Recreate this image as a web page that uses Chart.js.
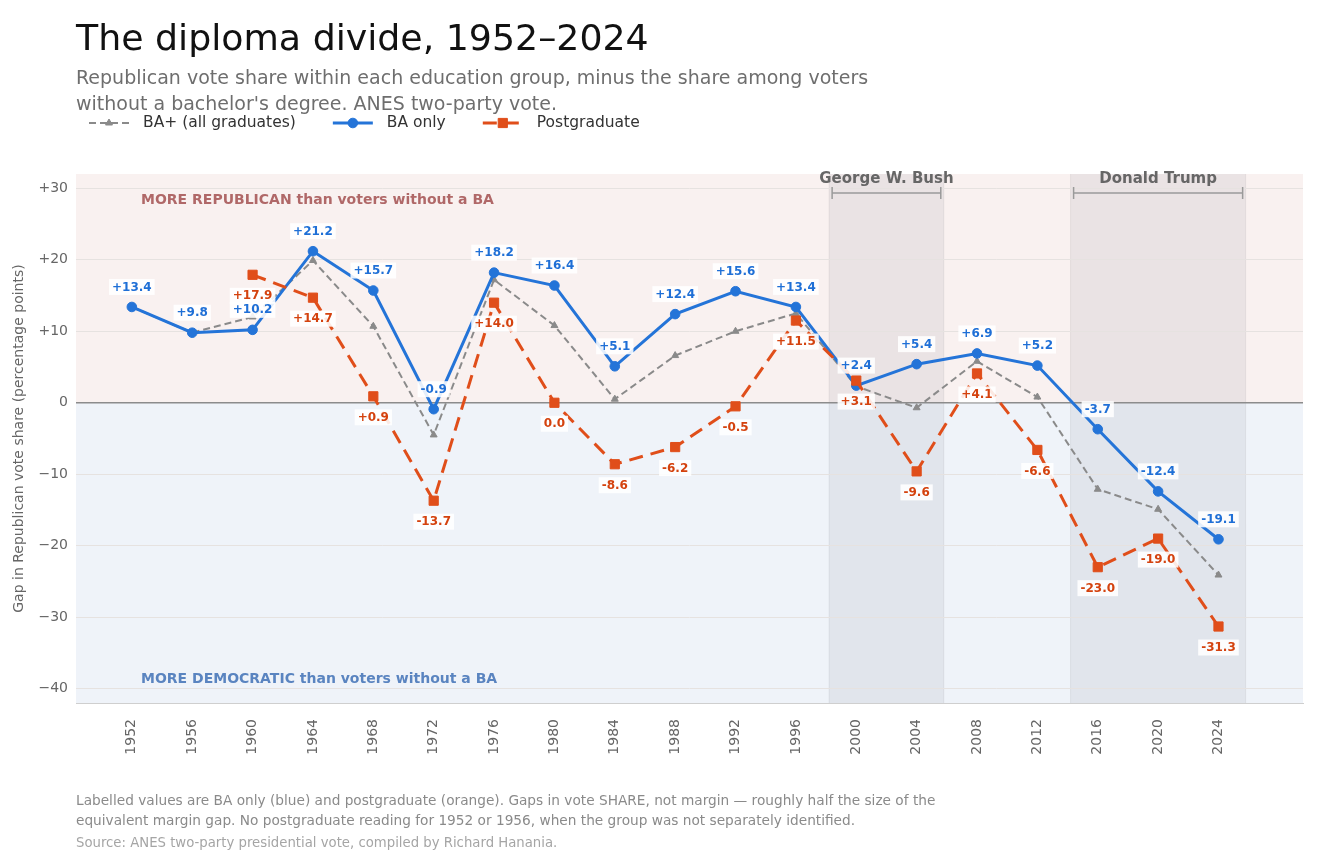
<!DOCTYPE html>
<html>
<head>
<meta charset="utf-8">
<title>The diploma divide</title>
<script src="https://cdn.jsdelivr.net/npm/chart.js@4.4.1/dist/chart.umd.min.js"></script>
<style>
  body { margin: 0; background: #fff; font-family: "DejaVu Sans", sans-serif; }
  #wrap { position: relative; width: 1326px; height: 859px; }
  #chart { position: absolute; left: 0; top: 0; }
  .txt { position: absolute; left: 76px; white-space: nowrap; }
  #title { top: 17px; font-size: 36.3px; line-height: 42px; color: #111; }
  #subtitle { top: 64px; font-size: 19px; line-height: 26px; color: #6e6e6e; }
  #notes { top: 790px; font-size: 13.7px; line-height: 20px; color: #8a8a8a; }
  #source { top: 833px; font-size: 13.25px; line-height: 20px; color: #a5a5a5; }
</style>
</head>
<body>
<div id="wrap">
  <canvas id="chart" width="1326" height="859"></canvas>
  <div class="txt" id="title">The diploma divide, 1952–2024</div>
  <div class="txt" id="subtitle">Republican vote share within each education group, minus the share among voters<br>without a bachelor's degree. ANES two-party vote.</div>
  <div class="txt" id="notes">Labelled values are BA only (blue) and postgraduate (orange). Gaps in vote SHARE, not margin — roughly half the size of the<br>equivalent margin gap. No postgraduate reading for 1952 or 1956, when the group was not separately identified.</div>
  <div class="txt" id="source">Source: ANES two-party presidential vote, compiled by Richard Hanania.</div>
</div>
<script>
// election years
const years = [1952, 1956, 1960, 1964, 1968, 1972, 1976, 1980, 1984, 1988, 1992, 1996, 2000, 2004, 2008, 2012, 2016, 2020, 2024];

// gap in Republican share vs. voters without a BA (pp)
const baOnly   = [13.4, 9.8, 10.2, 21.2, 15.7, -0.9, 18.2, 16.4, 5.1, 12.4, 15.6, 13.4, 2.4, 5.4, 6.9, 5.2, -3.7, -12.4, -19.1];
const postgrad = [null, null, 17.9, 14.7, 0.9, -13.7, 14.0, 0.0, -8.6, -6.2, -0.5, 11.5, 3.1, -9.6, 4.1, -6.6, -23.0, -19.0, -31.3];
const baPlus   = [13.4, 9.8, 12.0, 19.9, 10.7, -4.5, 17.2, 10.8, 0.5, 6.6, 10.0, 12.5, 2.3, -0.7, 5.8, 0.8, -12.1, -14.9, -24.1];

// shaded presidencies
const eraNames = ['George W. Bush', 'Donald Trump'];
const eraStart = [2000, 2016];
const eraEnd   = [2004, 2024];

const yTicks = [-40, -30, -20, -10, 0, 10, 20, 30];

const FONT = '"DejaVu Sans", sans-serif';

function pts(vals) {
    return years.map((yr, i) => ({ x: yr, y: vals[i] }));
}

function fmtLabel(v) {
    if (v > 0) return '+' + v.toFixed(1);
    if (v < 0) return '-' + Math.abs(v).toFixed(1);
    return '0.0';
}

const backdrop = {
    id: 'backdrop',
    beforeDraw(chart) {
        const { ctx, chartArea: a, scales: { x, y } } = chart;
        const y0 = y.getPixelForValue(0);
        ctx.save();
        ctx.fillStyle = '#f9f1f0';
        ctx.fillRect(a.left, a.top, a.width, y0 - a.top);
        ctx.fillStyle = '#eff3f9';
        ctx.fillRect(a.left, y0, a.width, a.bottom - y0);
        eraStart.forEach((s, k) => {
            const x1 = x.getPixelForValue(s - 1.8);
            const x2 = x.getPixelForValue(eraEnd[k] + 1.8);
            ctx.fillStyle = 'rgba(110,110,125,0.1)';
            ctx.fillRect(x1, a.top, x2 - x1, a.height);
            ctx.strokeStyle = 'rgba(0,0,0,0.06)';
            ctx.lineWidth = 1;
            ctx.beginPath();
            ctx.moveTo(x1, a.top); ctx.lineTo(x1, a.bottom);
            ctx.moveTo(x2, a.top); ctx.lineTo(x2, a.bottom);
            ctx.stroke();
        });
        ctx.restore();
    },
    beforeDatasetsDraw(chart) {
        const { ctx, chartArea: a } = chart;
        ctx.save();
        ctx.font = 'bold 14px ' + FONT;
        ctx.textBaseline = 'middle';
        ctx.textAlign = 'left';
        ctx.fillStyle = '#b06868';
        ctx.fillText('MORE REPUBLICAN than voters without a BA', a.left + 65, a.top + 26);
        ctx.fillStyle = '#5a84c0';
        ctx.fillText('MORE DEMOCRATIC than voters without a BA', a.left + 65, a.bottom - 24);
        ctx.restore();
    }
};

const valueLabels = {
    id: 'valueLabels',
    afterDatasetsDraw(chart) {
        const ctx = chart.ctx;
        ctx.save();
        ctx.font = 'bold 12px ' + FONT;
        ctx.textAlign = 'center';
        ctx.textBaseline = 'middle';
        chart.data.datasets.forEach((ds, i) => {
            if (!ds.labelOffset) return;
            const meta = chart.getDatasetMeta(i);
            meta.data.forEach((p, j) => {
                const v = ds.data[j].y;
                if (v === null) return;
                const t = fmtLabel(v);
                const w = ctx.measureText(t).width;
                const cx = p.x, cy = p.y + ds.labelOffset;
                ctx.fillStyle = 'rgba(255,255,255,0.88)';
                ctx.fillRect(cx - w / 2 - 3, cy - 8, w + 6, 16);
                ctx.fillStyle = ds.labelColor;
                ctx.fillText(t, cx, cy + 0.5);
            });
        });
        ctx.restore();
    }
};

const extras = {
    id: 'extras',
    afterDraw(chart) {
        const { ctx, chartArea: a, scales: { x } } = chart;
        ctx.save();
        // presidency brackets
        eraStart.forEach((s, k) => {
            const x1 = x.getPixelForValue(s - 1.6);
            const x2 = x.getPixelForValue(eraEnd[k] + 1.6);
            const by = a.top + 19;
            ctx.strokeStyle = '#9a9a9a';
            ctx.lineWidth = 1.5;
            ctx.beginPath();
            ctx.moveTo(x1, by); ctx.lineTo(x2, by);
            ctx.moveTo(x1, by - 6); ctx.lineTo(x1, by + 6);
            ctx.moveTo(x2, by - 6); ctx.lineTo(x2, by + 6);
            ctx.stroke();
            ctx.font = 'bold 15px ' + FONT;
            ctx.fillStyle = '#666';
            ctx.textAlign = 'center';
            ctx.textBaseline = 'middle';
            ctx.fillText(eraNames[k], (x1 + x2) / 2, a.top + 5);
        });
        // legend row
        let lx = 89;
        const ly = 123;
        ctx.font = '15.5px ' + FONT;
        ctx.textAlign = 'left';
        ctx.textBaseline = 'middle';
        chart.data.datasets.forEach(ds => {
            ctx.strokeStyle = ds.borderColor;
            ctx.lineWidth = ds.borderWidth;
            ctx.setLineDash(ds.borderDash || []);
            ctx.beginPath();
            ctx.moveTo(lx, ly); ctx.lineTo(lx + 40, ly);
            ctx.stroke();
            ctx.setLineDash([]);
            ctx.fillStyle = ds.borderColor;
            ctx.lineWidth = 1;
            Chart.helpers.drawPoint(ctx, { pointStyle: ds.pointStyle, radius: ds.pointRadius, borderWidth: 1, rotation: 0 }, lx + 20, ly);
            ctx.fillStyle = '#333';
            ctx.fillText(ds.label, lx + 54, ly);
            lx += 54 + ctx.measureText(ds.label).width + 37;
        });
        ctx.restore();
    }
};

new Chart(document.getElementById('chart'), {
    type: 'line',
    data: {
        datasets: [
            {
                label: 'BA+ (all graduates)',
                data: pts(baPlus),
                borderColor: '#8a8a8a',
                backgroundColor: '#8a8a8a',
                borderWidth: 2,
                borderDash: [7, 4],
                pointStyle: 'triangle',
                pointRadius: 4,
                pointBorderWidth: 1,
                order: 2
            },
            {
                label: 'BA only',
                data: pts(baOnly),
                borderColor: '#2474d8',
                backgroundColor: '#2474d8',
                borderWidth: 3,
                pointStyle: 'circle',
                pointRadius: 4.8,
                pointBorderWidth: 1,
                labelOffset: -20,
                labelColor: '#1f6fd6',
                order: 1
            },
            {
                label: 'Postgraduate',
                data: pts(postgrad),
                borderColor: '#e04e1a',
                backgroundColor: '#e04e1a',
                borderWidth: 3,
                borderDash: [14, 8],
                pointStyle: 'rect',
                pointRadius: 6.5,
                pointBorderWidth: 1,
                labelOffset: 21,
                labelColor: '#d4420e',
                order: 0
            }
        ]
    },
    options: {
        responsive: false,
        animation: false,
        layout: { padding: { top: 174, right: 23, left: 0, bottom: 0 } },
        plugins: {
            legend: { display: false },
            tooltip: { enabled: false }
        },
        elements: { line: { tension: 0 } },
        scales: {
            x: {
                type: 'linear',
                min: 1948.3,
                max: 2029.6,
                afterBuildTicks: s => { s.ticks = years.map(v => ({ value: v })); },
                afterFit: s => { s.height = 156; },
                grid: { display: false },
                border: { display: true, color: '#cfcfcf', width: 1 },
                ticks: {
                    autoSkip: false,
                    minRotation: 90,
                    maxRotation: 90,
                    padding: 8,
                    color: '#666',
                    font: { family: FONT, size: 14 },
                    callback: v => String(v)
                }
            },
            y: {
                min: -42,
                max: 32,
                afterBuildTicks: s => { s.ticks = yTicks.map(v => ({ value: v })); },
                afterFit: s => { s.width = 76; },
                grid: {
                    drawTicks: false,
                    color: c => c.tick && c.tick.value === 0 ? '#8c8c8c' : '#e6e2e0',
                    lineWidth: c => c.tick && c.tick.value === 0 ? 1.5 : 1
                },
                border: { display: false },
                ticks: {
                    padding: 8,
                    color: '#666',
                    font: { family: FONT, size: 14 },
                    callback: v => v > 0 ? '+' + v : v < 0 ? '\u2212' + Math.abs(v) : '0'
                },
                title: {
                    display: true,
                    text: 'Gap in Republican vote share (percentage points)',
                    color: '#666',
                    font: { family: FONT, size: 14 },
                    padding: { top: 11, bottom: 0 }
                }
            }
        }
    },
    plugins: [backdrop, valueLabels, extras]
});
</script>
</body>
</html>
